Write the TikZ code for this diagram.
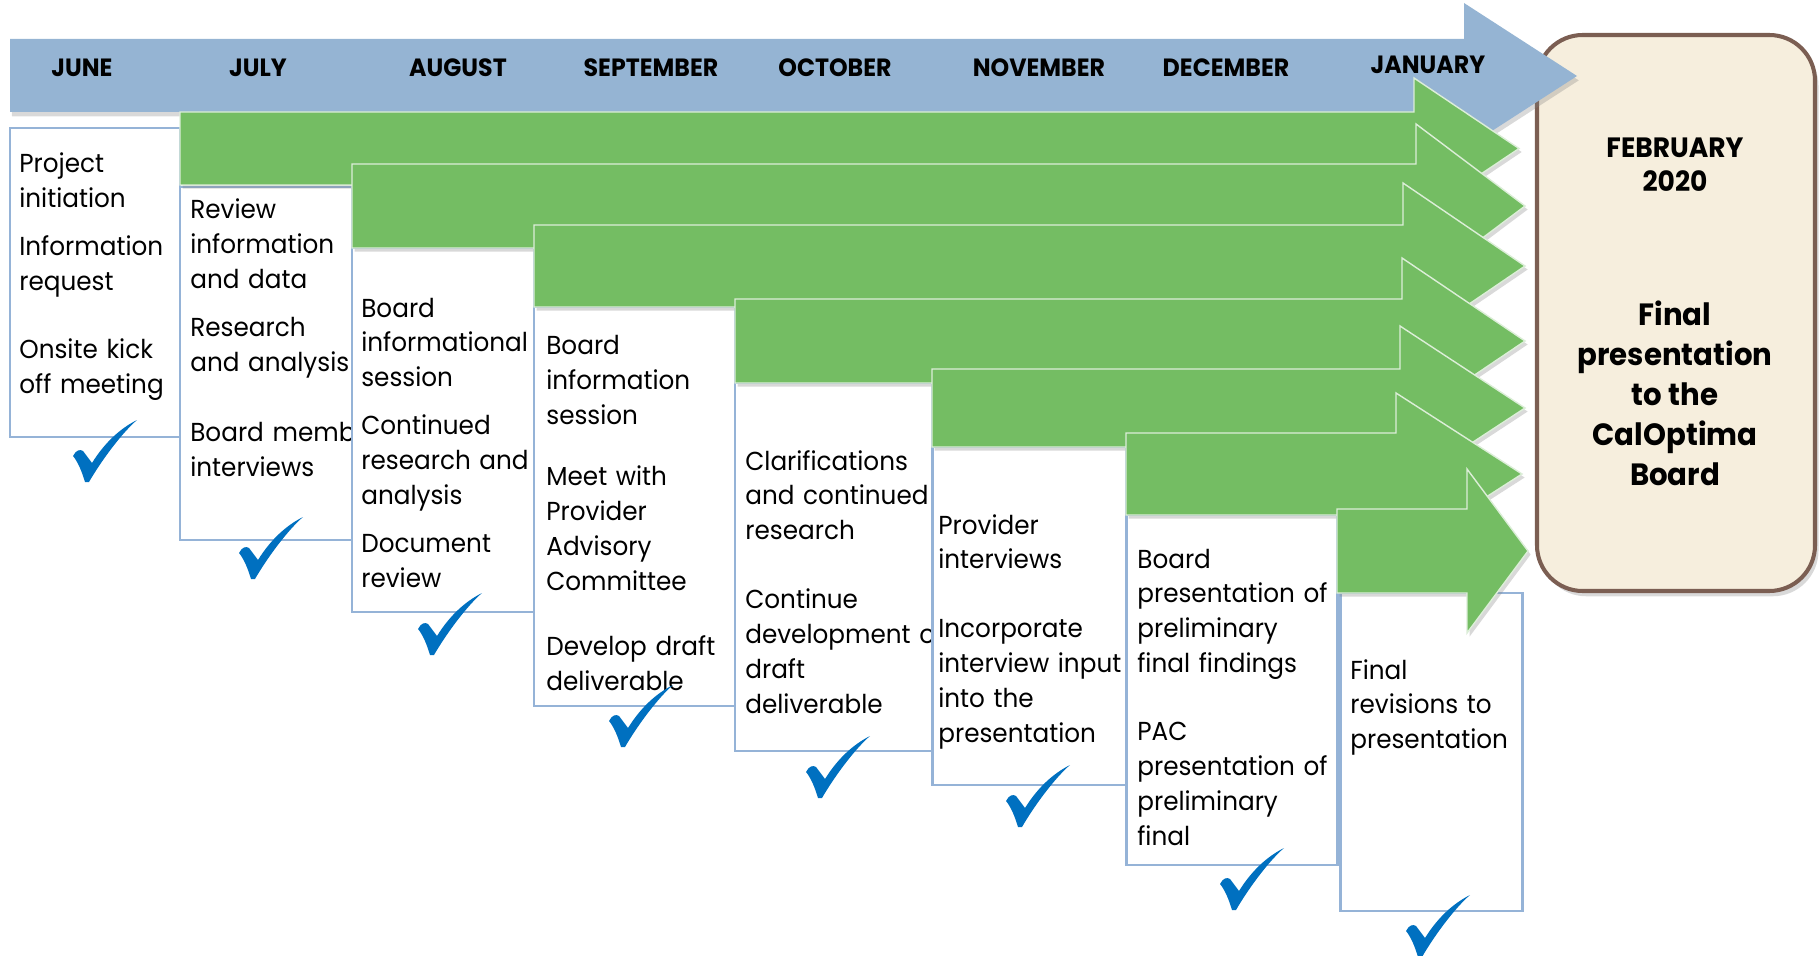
\documentclass[tikz,border=0pt]{standalone}
\usepackage{fontspec}
\setmainfont{Poppins}[FakeStretch=0.95]
\usepackage{tikz}
\usetikzlibrary{shadows}

\definecolor{bannerblue}{HTML}{95B4D3}
\definecolor{boxblue}{HTML}{95B3D7}
\definecolor{arrowgreen}{HTML}{74BD63}
\definecolor{checkblue}{HTML}{0070C0}
\definecolor{febfill}{HTML}{F6EEDD}
\definecolor{febborder}{HTML}{7B5E52}

\newlength{\px}
\setlength{\px}{0.02cm}

\begin{document}
\begin{tikzpicture}[x=0.02cm,y=-0.02cm]

  %Styles for picture
  \tikzset
  {
  banner/.style={fill=bannerblue, drop shadow={opacity=0.3, shadow xshift=1pt, shadow yshift=-2.5pt}},
  greenarrow/.style={fill=arrowgreen, draw=white!75!arrowgreen, line width=0.8pt, line join=miter, drop shadow={opacity=0.3, shadow xshift=1.5pt, shadow yshift=-2pt}},
  box/.style={draw=boxblue, line width=1.7pt, fill=white},
  febbox/.style={draw=febborder, line width=2.3pt, fill=febfill, rounded corners=26pt, drop shadow={opacity=0.3, shadow xshift=2pt, shadow yshift=-3pt}},
  month/.style={inner sep=0pt, font=\fontsize{14.2}{16}\selectfont\bfseries},
  boxtext/.style={anchor=base west, inner sep=0pt, text width=9cm, align=left, font=\fontsize{14.8}{19.9}\selectfont},
  febtext/.style={inner sep=0pt, align=center, font=\fontsize{15.9}{19.3}\selectfont\bfseries},
  finaltext/.style={inner sep=0pt, align=center, font=\fontsize{17.5}{22.8}\selectfont\bfseries},
  tick/.pic={\fill[checkblue] (0,36) .. controls (3,30) and (7,29) .. (10,31) -- (19,43) .. controls (32,22) and (48,8) .. (64,0) .. controls (50,12) and (30,38) .. (16,62) -- (12,62) .. controls (9,52) and (5,42) .. (0,36) -- cycle;},
  }

  \useasboundingbox (0,0) rectangle (1820,956);

  %February box
  \draw[febbox] (1537,35) rectangle (1815,591);
  \node[febtext] (feb) at (1675,165) {FEBRUARY\\2020};
  \node[finaltext] (final) at (1675,393) {Final\\presentation\\to the\\CalOptima\\Board};

  %Month banner
  \fill[banner] (10,39) -- (1464,39) -- (1464,3) -- (1577,76) -- (1464,149) -- (1464,112) -- (10,112) -- cycle;
  \node[month] (jun) at (82,68) {JUNE};
  \node[month] (jul) at (258,68) {JULY};
  \node[month] (aug) at (458,68) {AUGUST};
  \node[month] (sep) at (651,68) {SEPTEMBER};
  \node[month] (oct) at (835,68) {OCTOBER};
  \node[month] (nov) at (1039,68) {NOVEMBER};
  \node[month] (dec) at (1226,68) {DECEMBER};
  \node[month] (jan) at (1428,65) {JANUARY};

  %Boxes
  \draw[box] (10,128) rectangle (180,437);
  \node[boxtext] (t1) at (19,173) {Project\\initiation\\[13\px]Information\\request\\[33\px]Onsite kick\\off meeting};
  \draw[box] (180,187) rectangle (352,540);
  \node[boxtext] (t2) at (190,219) {Review\\information\\and data\\[13\px]Research\\and analysis\\[35\px]Board memb\\interviews};
  \draw[box] (352,248) rectangle (534,612);
  \node[boxtext] (t3) at (361,317) {Board\\informational\\session\\[13\px]Continued\\research and\\analysis\\[13\px]Document\\review};
  \draw[box] (534,307) rectangle (735,706);
  \node[boxtext] (t4) at (546,355) {Board\\information\\session\\[26\px]Meet with\\Provider\\Advisory\\Committee\\[30\px]Develop draft\\deliverable};
  \draw[box] (735,383) rectangle (932,751);
  \node[boxtext] (t5) at (745,470) {Clarifications\\and continued\\research\\[34\px]Continue\\development of\\draft\\deliverable};
  \draw[box] (932,447) rectangle (1126,785);
  \node[boxtext] (t6) at (938,534) {Provider\\interviews\\[34\px]Incorporate\\interview input\\into the\\presentation};
  \draw[box] (1126,515) rectangle (1337,865);
  \node[boxtext] (t7) at (1137,568) {Board\\presentation of\\preliminary\\final findings\\[33\px]PAC\\presentation of\\preliminary\\final};
  \draw[box] (1340,593) rectangle (1522,911);
  \node[boxtext] (t8) at (1350,679) {Final\\revisions to\\presentation};

  %Checks
  \pic at (73,420) {tick};
  \pic at (239,517) {tick};
  \pic at (418,593) {tick};
  \pic at (609,685) {tick};
  \pic at (806,736) {tick};
  \pic at (1006,765) {tick};
  \pic at (1220,848) {tick};
  \pic at (1406,895) {tick};

  %Arrows
  \draw[greenarrow] (180,112) -- (1414,112) -- (1414,78) -- (1519,148.5) -- (1414,219) -- (1414,185) -- (180,185) -- cycle;
  \draw[greenarrow] (352,164) -- (1416,164) -- (1416,124) -- (1525,206) -- (1416,288) -- (1416,248) -- (352,248) -- cycle;
  \draw[greenarrow] (534,225) -- (1403,225) -- (1403,183) -- (1525,266) -- (1403,349) -- (1403,307) -- (534,307) -- cycle;
  \draw[greenarrow] (735,299) -- (1402,299) -- (1402,258) -- (1525,341) -- (1402,424) -- (1402,383) -- (735,383) -- cycle;
  \draw[greenarrow] (932,369) -- (1400,369) -- (1400,326) -- (1525,408) -- (1400,490) -- (1400,447) -- (932,447) -- cycle;
  \draw[greenarrow] (1126,433) -- (1396,433) -- (1396,393) -- (1522,474) -- (1396,555) -- (1396,515) -- (1126,515) -- cycle;
  \draw[greenarrow] (1337,509) -- (1467,509) -- (1467,469) -- (1528,551) -- (1467,633) -- (1467,593) -- (1337,593) -- cycle;
\end{tikzpicture}
\end{document}
